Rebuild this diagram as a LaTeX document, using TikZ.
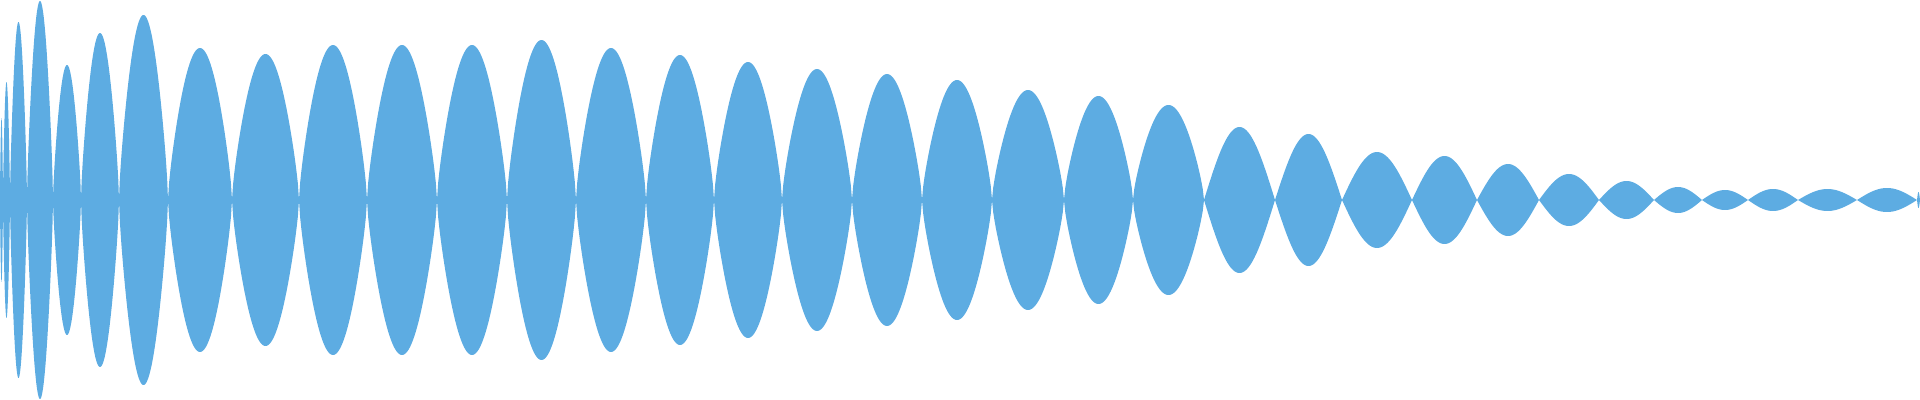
\documentclass[tikz,border=0pt]{standalone}
\definecolor{wave}{RGB}{93,172,226}
\begin{document}
\begin{tikzpicture}[x=0.01cm,y=-0.01cm]
\useasboundingbox (0,0) rectangle (1920,400);
\foreach \a/\b/\h in {0/3/82,3/10/118,10/27/178,27/53/199,53/81/135,81/119/167,119/168/185,168/232/152,232/299/146,299/367/155,367/437/155,437/507/155,507/576/160,576/646/152,646/714/145,714/782/138,782/852/131,852/922/126,922/992/120,992/1064/110,1064/1133/104,1133/1204/95}{
  \fill[wave] plot[domain=\a:\b,samples=60] (\x,{200-\h*(0.5*sin(180*(\x-\a)/(\b-\a))+0.5*pow(abs(sin(180*(\x-\a)/(\b-\a)))+0.00001,0.6))})
    -- plot[domain=\b:\a,samples=60] (\x,{200+\h*(0.5*sin(180*(\x-\a)/(\b-\a))+0.5*pow(abs(sin(180*(\x-\a)/(\b-\a)))+0.00001,0.6))}) -- cycle;
}
\foreach \a/\b/\h in {1204/1275/73,1275/1342/66,1342/1412/48,1412/1477/44,1477/1539/36,1539/1599/26,1599/1654/19,1654/1702/13,1702/1748/10,1748/1798/11,1798/1857/11,1857/1917/12,1917/1920/8}{
  \fill[wave] plot[domain=\a:\b,samples=60] (\x,{200-\h*sin(180*(\x-\a)/(\b-\a))})
    -- plot[domain=\b:\a,samples=60] (\x,{200+\h*sin(180*(\x-\a)/(\b-\a))}) -- cycle;
}
\end{tikzpicture}
\end{document}
